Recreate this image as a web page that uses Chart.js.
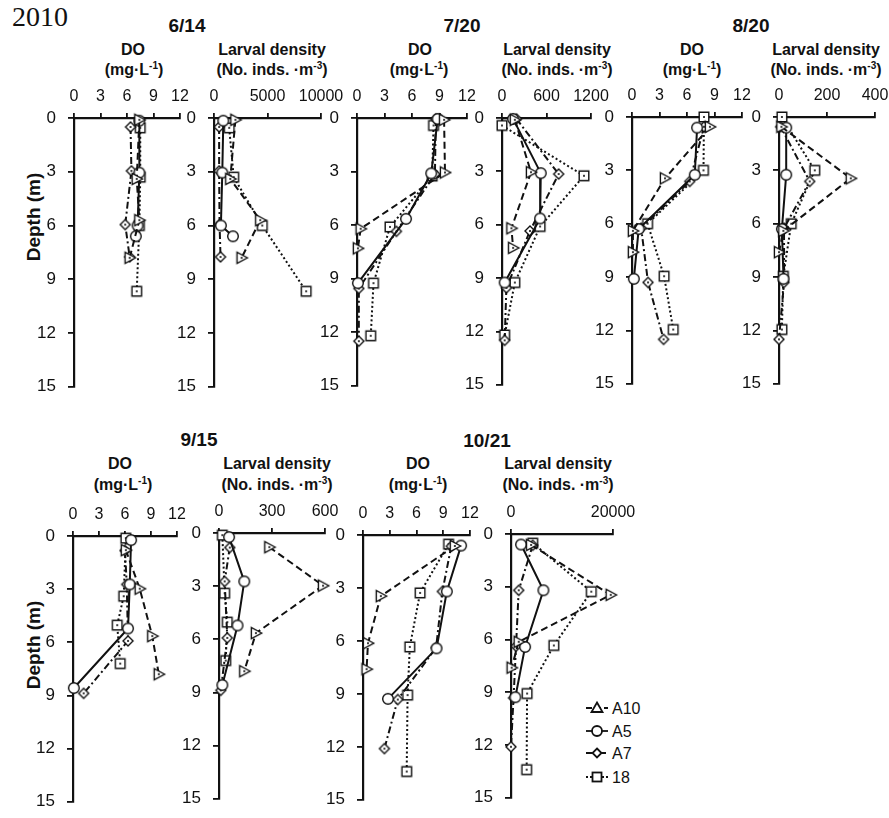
<!DOCTYPE html>
<html lang="en">
<head>
<meta charset="utf-8">
<title>2010 DO and larval density profiles</title>
<script src="https://cdn.jsdelivr.net/npm/chart.js@4.4.1/dist/chart.umd.min.js"></script>
<style>
  html,body{margin:0;padding:0;background:#fff;}
  #fig{position:relative;width:889px;height:818px;overflow:hidden;font-family:"Liberation Sans",Arial,Helvetica,sans-serif;color:#111;}
  #fig canvas{position:absolute;}
  .t{position:absolute;transform:translate(-50%,-50%);white-space:nowrap;font-weight:bold;line-height:1;}
  .date{font-size:19px;}
  .hd{font-size:16px;}
  .hd sup{font-size:10px;vertical-align:6px;line-height:0;}
  .year{position:absolute;transform:translate(-50%,-50%);line-height:1;font-family:"Liberation Serif","DejaVu Serif",serif;font-size:28px;}
  .ylab{position:absolute;font-size:19px;font-weight:bold;line-height:1;transform:translate(-50%,-50%) rotate(-90deg);white-space:nowrap;}
  #legend{position:absolute;left:584px;top:696px;}
</style>
</head>
<body>
<div id="fig">
  <div class="year" style="left:40px;top:17px;">2010</div>

  <div class="t date" style="left:187px;top:25px;">6/14</div>
  <div class="t date" style="left:462px;top:25px;">7/20</div>
  <div class="t date" style="left:751px;top:25px;">8/20</div>
  <div class="t date" style="left:199px;top:439px;">9/15</div>
  <div class="t date" style="left:487px;top:440px;">10/21</div>

  <div class="t hd" style="left:133px;top:50px;">DO</div>
  <div class="t hd" style="left:134px;top:70px;">(mg·L<sup>-1</sup>)</div>
  <div class="t hd" style="left:272px;top:50px;">Larval density</div>
  <div class="t hd" style="left:272px;top:70px;">(No. inds. ·m<sup>-3</sup>)</div>
  <div class="t hd" style="left:420px;top:50px;">DO</div>
  <div class="t hd" style="left:419px;top:70px;">(mg·L<sup>-1</sup>)</div>
  <div class="t hd" style="left:557px;top:50px;">Larval density</div>
  <div class="t hd" style="left:557px;top:70px;">(No. inds. ·m<sup>-3</sup>)</div>
  <div class="t hd" style="left:692px;top:50px;">DO</div>
  <div class="t hd" style="left:692px;top:70px;">(mg·L<sup>-1</sup>)</div>
  <div class="t hd" style="left:826px;top:50px;">Larval density</div>
  <div class="t hd" style="left:826px;top:70px;">(No. inds. ·m<sup>-3</sup>)</div>

  <div class="t hd" style="left:120px;top:464px;">DO</div>
  <div class="t hd" style="left:123px;top:485px;">(mg·L<sup>-1</sup>)</div>
  <div class="t hd" style="left:277px;top:464px;">Larval density</div>
  <div class="t hd" style="left:277px;top:485px;">(No. inds. ·m<sup>-3</sup>)</div>
  <div class="t hd" style="left:418px;top:464px;">DO</div>
  <div class="t hd" style="left:418px;top:485px;">(mg·L<sup>-1</sup>)</div>
  <div class="t hd" style="left:558px;top:464px;">Larval density</div>
  <div class="t hd" style="left:558px;top:485px;">(No. inds. ·m<sup>-3</sup>)</div>

  <div class="ylab" style="left:33px;top:217px;">Depth (m)</div>
  <div class="ylab" style="left:33px;top:645px;">Depth (m)</div>

  <svg id="legend" width="70" height="92" xmlns="http://www.w3.org/2000/svg">
    <g stroke="#111" stroke-width="1.8" fill="#fff">
      <line x1="2" y1="12" x2="24" y2="12" stroke-dasharray="6,3"/>
      <polygon points="13,6.5 18.5,16 7.5,16"/>
      <line x1="2" y1="35" x2="24" y2="35"/>
      <circle cx="13" cy="35" r="5"/>
      <line x1="2" y1="57" x2="24" y2="57" stroke-dasharray="6,3,2,3"/>
      <polygon points="13,52.5 17.5,57 13,61.5 8.5,57"/>
      <line x1="2" y1="81" x2="24" y2="81" stroke-dasharray="2,2"/>
      <rect x="8.5" y="76.5" width="9" height="9"/>
    </g>
    <g font-family="Liberation Sans, Arial, sans-serif" font-size="16" fill="#111" dominant-baseline="central">
      <text x="28" y="12">A10</text>
      <text x="28" y="35">A5</text>
      <text x="28" y="57">A7</text>
      <text x="28" y="81">18</text>
    </g>
  </svg>
</div>

<script>
// Sampling stations, drawn in this order in every panel
const stations = ['A10', 'A5', 'A7', '18'];

// Axis tick labels
const depthTicks = [0, 3, 6, 9, 12, 15];
const doTicks = [0, 3, 6, 9, 12];
const larvaTicks0614 = [0, 5000, 10000];
const larvaTicks0720 = [0, 600, 1200];
const larvaTicks0820 = [0, 200, 400];
const larvaTicks0915 = [0, 300, 600];
const larvaTicks1021 = [0, 20000];

// ---- 6/14 ----
const depth0614A10 = [0.1, 3.4, 5.7, 7.8];
const do0614A10    = [7.4, 7.1, 7.4, 6.3];
const larva0614A10 = [2000, 1520, 4320, 2580];
const depth0614A5  = [0.15, 3.05, 6.0, 6.6];
const do0614A5     = [7.4, 7.4, 7.2, 7.0];
const larva0614A5  = [870, 775, 645, 1775];
const depth0614A7  = [0.5, 2.95, 5.95, 7.75];
const do0614A7     = [6.4, 6.5, 5.8, 6.3];
const larva0614A7  = [480, 480, 520, 610];
const depth0614S18 = [0.55, 3.3, 6.0, 9.67];
const do0614S18    = [7.5, 7.5, 7.4, 7.1];
const larva0614S18 = [1420, 1840, 4515, 8610];

// ---- 7/20 ----
const depth0720A10 = [0.1, 3.05, 6.2, 7.3];
const do0720A10    = [9.5, 9.6, 0.4, 0.1];
const larva0720A10 = [173, 391, 127, 150];
const depth0720A5  = [0.05, 3.1, 5.65, 9.25];
const do0720A5     = [8.8, 8.1, 5.35, 0.1];
const larva0720A5  = [150, 523, 514, 36];
const depth0720A7  = [0.05, 3.15, 6.35, 9.55, 12.5];
const do0720A7     = [8.6, 8.5, 4.3, 0.2, 0.2];
const larva0720A7  = [195, 764, 377, 59, 36];
const depth0720S18 = [0.42, 3.25, 6.1, 9.25, 12.2];
const do0720S18    = [8.35, 8.2, 3.6, 1.8, 1.5];
const larva0720S18 = [0, 1105, 514, 173, 36];

// ---- 8/20 ----
const depth0820A10 = [0.55, 3.45, 6.4, 7.6];
const do0820A10    = [8.5, 3.6, 0.1, 0.1];
const larva0820A10 = [10, 299, 18, 0];
const depth0820A5  = [0.6, 3.25, 6.3, 9.1];
const do0820A5     = [7.1, 6.85, 0.73, 0.2];
const larva0820A5  = [30, 30, 12, 19];
const depth0820A7  = [0.55, 3.62, 6.25, 9.3, 12.5];
const do0820A7     = [7.85, 6.3, 1.0, 1.75, 3.45];
const larva0820A7  = [7, 128, 21, 21, 0];
const depth0820S18 = [0, 3.0, 6.0, 8.95, 11.95];
const do0820S18    = [7.85, 7.8, 1.7, 3.5, 4.5];
const larva0820S18 = [12, 149, 51, 18, 12];

// ---- 9/15 ----
const depth0915A10 = [0.8, 2.97, 5.65, 7.8];
const do0915A10    = [6.1, 7.7, 9.15, 9.9];
const larva0915A10 = [285, 589, 209, 143];
const depth0915A5  = [0.23, 2.73, 5.22, 8.58];
const do0915A5     = [6.7, 6.55, 6.35, 0.1];
const larva0915A5  = [57, 143, 105, 19];
const depth0915A7  = [0.82, 2.73, 5.92, 8.88];
const do0915A7     = [6.0, 6.2, 6.35, 1.23];
const larva0915A7  = [61, 32, 47, 10];
const depth0915S18 = [0.12, 3.4, 5.03, 7.2];
const do0915S18    = [6.1, 5.85, 5.1, 5.45];
const larva0915S18 = [19, 32, 47, 38];

// ---- 10/21 ----
const depth1021A10 = [0.62, 3.46, 6.13, 7.6];
const do1021A10    = [10.3, 2.0, 0.56, 0.4];
const larva1021A10 = [3940, 19550, 1510, 130];
const depth1021A5  = [0.6, 3.2, 6.42, 9.28];
const do1021A5     = [11.0, 9.4, 8.25, 2.8];
const larva1021A5  = [1970, 6360, 2760, 850];
const depth1021A7  = [0.64, 3.2, 6.38, 9.32, 12.1];
const do1021A7     = [9.9, 8.9, 8.2, 3.9, 2.4];
const larva1021A7  = [4260, 1510, 985, 500, 0];
const depth1021S18 = [0.52, 3.28, 6.34, 9.07, 13.4];
const do1021S18    = [9.6, 6.4, 5.25, 5.0, 4.9];
const larva1021S18 = [4260, 15740, 8400, 3150, 3070];

// Line pattern and marker for each station
const stationStyle = {
  'A10': { dash: [7, 4], marker: 'triangle' },
  'A5':  { dash: [], marker: 'circle' },
  'A7':  { dash: [7, 3, 2, 3], marker: 'diamond' },
  '18':  { dash: [2, 2.5], marker: 'square' }
};

// Open markers drawn once into small canvases
function makeMarker(kind) {
  const s = 18, m = 9;
  const c = document.createElement('canvas');
  c.width = s; c.height = s;
  const g = c.getContext('2d');
  g.lineWidth = 1.4; g.strokeStyle = '#111'; g.fillStyle = '#fff';
  g.beginPath();
  if (kind === 'circle') {
    g.arc(m, m, 5.3, 0, Math.PI * 2);
  } else if (kind === 'square') {
    g.rect(m - 4.8, m - 4.8, 9.6, 9.6);
  } else if (kind === 'diamond') {
    g.moveTo(m, m - 5); g.lineTo(m + 5, m); g.lineTo(m, m + 5); g.lineTo(m - 5, m); g.closePath();
  } else {
    g.moveTo(m + 5.8, m); g.lineTo(m - 4.6, m - 5.6); g.lineTo(m - 4.6, m + 5.6); g.closePath();
  }
  g.fill(); g.stroke();
  if (kind !== 'circle') { g.fillStyle = '#111'; g.fillRect(m - 0.9, m - 0.9, 1.8, 1.8); }
  return c;
}
const markers = {};
['triangle', 'circle', 'diamond', 'square'].forEach(k => { markers[k] = makeMarker(k); });

// Plot-area boxes [left, right, top, bottom] of each panel in page pixels
const panels = [
  { box: [74, 180, 118, 393],  xMax: 12,    ticks: doTicks,        depths: [depth0614A10, depth0614A5, depth0614A7, depth0614S18], values: [do0614A10, do0614A5, do0614A7, do0614S18] },
  { box: [214, 321, 118, 393], xMax: 10000, ticks: larvaTicks0614, depths: [depth0614A10, depth0614A5, depth0614A7, depth0614S18], values: [larva0614A10, larva0614A5, larva0614A7, larva0614S18] },
  { box: [357, 467, 118, 392], xMax: 12,    ticks: doTicks,        depths: [depth0720A10, depth0720A5, depth0720A7, depth0720S18], values: [do0720A10, do0720A5, do0720A7, do0720S18] },
  { box: [502, 591, 118, 391], xMax: 1200,  ticks: larvaTicks0720, depths: [depth0720A10, depth0720A5, depth0720A7, depth0720S18], values: [larva0720A10, larva0720A5, larva0720A7, larva0720S18] },
  { box: [632, 742, 117, 390], xMax: 12,    ticks: doTicks,        depths: [depth0820A10, depth0820A5, depth0820A7, depth0820S18], values: [do0820A10, do0820A5, do0820A7, do0820S18] },
  { box: [779, 875, 117, 390], xMax: 400,   ticks: larvaTicks0820, depths: [depth0820A10, depth0820A5, depth0820A7, depth0820S18], values: [larva0820A10, larva0820A5, larva0820A7, larva0820S18] },
  { box: [73, 177, 536, 808],  xMax: 12,    ticks: doTicks,        depths: [depth0915A10, depth0915A5, depth0915A7, depth0915S18], values: [do0915A10, do0915A5, do0915A7, do0915S18] },
  { box: [219, 325, 533, 805], xMax: 600,   ticks: larvaTicks0915, depths: [depth0915A10, depth0915A5, depth0915A7, depth0915S18], values: [larva0915A10, larva0915A5, larva0915A7, larva0915S18] },
  { box: [363, 470, 535, 806], xMax: 12,    ticks: doTicks,        depths: [depth1021A10, depth1021A5, depth1021A7, depth1021S18], values: [do1021A10, do1021A5, do1021A7, do1021S18] },
  { box: [511, 613, 534, 804], xMax: 20000, ticks: larvaTicks1021, depths: [depth1021A10, depth1021A5, depth1021A7, depth1021S18], values: [larva1021A10, larva1021A5, larva1021A7, larva1021S18] }
];

Chart.defaults.font.family = '"Liberation Sans", Arial, Helvetica, sans-serif';
Chart.defaults.font.size = 16;
Chart.defaults.color = '#111';

const fig = document.getElementById('fig');
const INK = '#111';

function drawPanel(p) {
  const [x0, x1, y0, y1] = p.box;
  const L = 50, T = 35, R = 34, B = 16;
  const w = (x1 - x0) + L + R, h = (y1 - y0) + T + B;
  const c = document.createElement('canvas');
  c.width = w; c.height = h;
  c.style.left = (x0 - L) + 'px'; c.style.top = (y0 - T) + 'px';
  c.style.width = w + 'px'; c.style.height = h + 'px';
  fig.appendChild(c);

  const datasets = stations.map((st, i) => ({
    label: st,
    data: p.depths[i].map((d, j) => ({ x: p.values[i][j], y: d })),
    showLine: true,
    borderColor: INK,
    borderWidth: 2,
    borderDash: stationStyle[st].dash,
    backgroundColor: '#fff',
    pointStyle: markers[stationStyle[st].marker],
    pointRadius: 5,
    tension: 0,
    clip: false
  }));

  new Chart(c, {
    type: 'scatter',
    data: { datasets },
    options: {
      responsive: false,
      animation: false,
      devicePixelRatio: 1,
      events: [],
      layout: { padding: { left: 0, top: 0, right: R, bottom: B } },
      plugins: { legend: { display: false }, tooltip: { enabled: false } },
      scales: {
        x: {
          type: 'linear', position: 'top', min: 0, max: p.xMax,
          afterBuildTicks: s => { s.ticks = p.ticks.map(v => ({ value: v })); },
          afterFit: s => { s.height = T; },
          grid: { drawOnChartArea: false, drawTicks: true, tickLength: 5, color: INK, lineWidth: 1.8 },
          border: { display: true, color: INK, width: 2.2 },
          ticks: { autoSkip: false, maxRotation: 0, minRotation: 0, padding: 7, color: INK, font: { size: 16 }, callback: v => String(v) }
        },
        y: {
          type: 'linear', reverse: true, min: 0, max: 15,
          afterBuildTicks: s => { s.ticks = depthTicks.map(v => ({ value: v })); },
          afterFit: s => { s.width = L; },
          grid: { drawOnChartArea: false, drawTicks: true, tickLength: 6, color: INK, lineWidth: 1.8 },
          border: { display: true, color: INK, width: 2.2 },
          ticks: { autoSkip: false, padding: 12, color: INK, font: { size: 17 }, callback: v => String(v) }
        }
      }
    }
  });
}

panels.forEach(drawPanel);
</script>
</body>
</html>
